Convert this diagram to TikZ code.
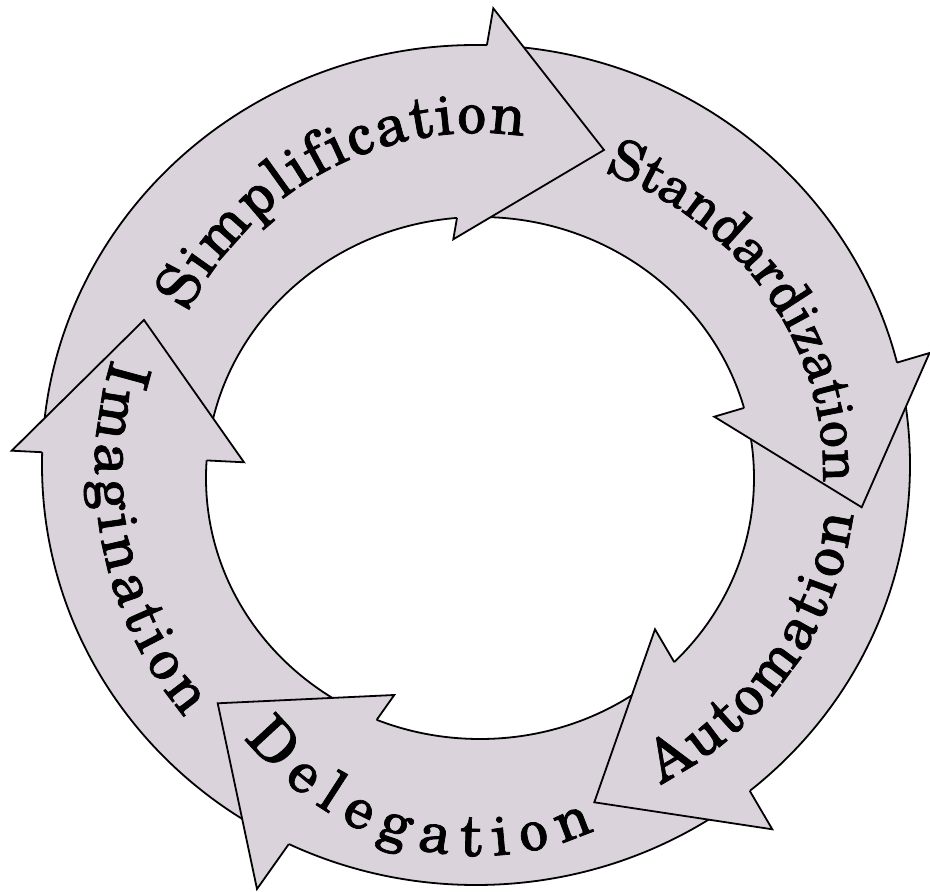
\documentclass[tikz,border=0pt]{standalone}
\usepackage{fontspec}
\setmainfont{TeX Gyre Schola}
\newfontfamily\wordfont{TeX Gyre Schola}[FakeBold=1.2]
\usetikzlibrary{decorations.text,intersections}
\definecolor{ringfill}{RGB}{219,211,220}
\newcommand{\wf}{\wordfont\fontsize{58}{62}\selectfont}
\newcommand{\wfs}{\wordfont\fontsize{54}{58}\selectfont}
\begin{document}
\begin{tikzpicture}[x=1pt,y=1pt,
  edge/.style={line width=1.8pt, black, line join=miter},
  wordtext/.style={decorate, decoration={text along path, text align={fit to path}, text={#1}}}]
\useasboundingbox (0,0) rectangle (930,892);
% ring
\coordinate (oc) at (476,427);
\coordinate (ic) at (480,414);
\coordinate (tc) at (478,421);
\path[name path=outer] (oc) ellipse[x radius=434, y radius=420];
\path[name path=inner] (ic) ellipse[x radius=274, y radius=261];
\fill[ringfill, even odd rule] (oc) ellipse[x radius=434, y radius=420] (ic) ellipse[x radius=274, y radius=261];
\draw[edge] (oc) ellipse[x radius=434, y radius=420];
\draw[edge] (ic) ellipse[x radius=274, y radius=261];
% arrowhead points
\coordinate (ob1) at (493.3,883.7); \coordinate (tip1) at (604,742);   \coordinate (ib1) at (453.3,652.7);
\coordinate (ob2) at (929.5,539);   \coordinate (tip2) at (861.7,384.7); \coordinate (ib2) at (714.3,475.3);
\coordinate (ob3) at (772.3,62.7);  \coordinate (tip3) at (594.3,89.7);  \coordinate (ib3) at (655,262.7);
\coordinate (ob4) at (257,3);       \coordinate (tip4) at (217.7,188.7); \coordinate (ib4) at (394.3,197);
\coordinate (ob5) at (11.7,441.3);  \coordinate (tip5) at (144,572);     \coordinate (ib5) at (244,429.7);
\foreach \k in {1,...,5}{
  \path[name path=back\k] (ob\k) -- (ib\k);
  \path[name intersections={of=outer and back\k, by={o\k}}];
  \path[name intersections={of=inner and back\k, by={i\k}}];
  \fill[ringfill] (ob\k) -- (tip\k) -- (ib\k) -- cycle;
  \draw[edge] (o\k) -- (ob\k) -- (tip\k) -- (ib\k) -- (i\k);
}
% words
\path[wordtext={|\wf|Simplification}] (tc) ++(152:329 and 338) arc[start angle=152, end angle=82, x radius=329, y radius=338];
\path[wordtext={|\wfs|Standardization}] (tc) ++(68.5:345 and 321) arc[start angle=68.5, end angle=-2, x radius=345, y radius=321];
\path[wordtext={|\wf|Automation}] (tc) ++(-61:378 and 358) arc[start angle=-61, end angle=-7, x radius=378, y radius=358];
\path[wordtext={|\wf|Delegation}] (tc) ++(-136:325 and 385) arc[start angle=-136, end angle=-69, x radius=325, y radius=385];
\path[wordtext={|\wf|Imagination}] (tc) ++(163:383 and 383) arc[start angle=163, end angle=220, x radius=383, y radius=383];
\end{tikzpicture}
\end{document}
